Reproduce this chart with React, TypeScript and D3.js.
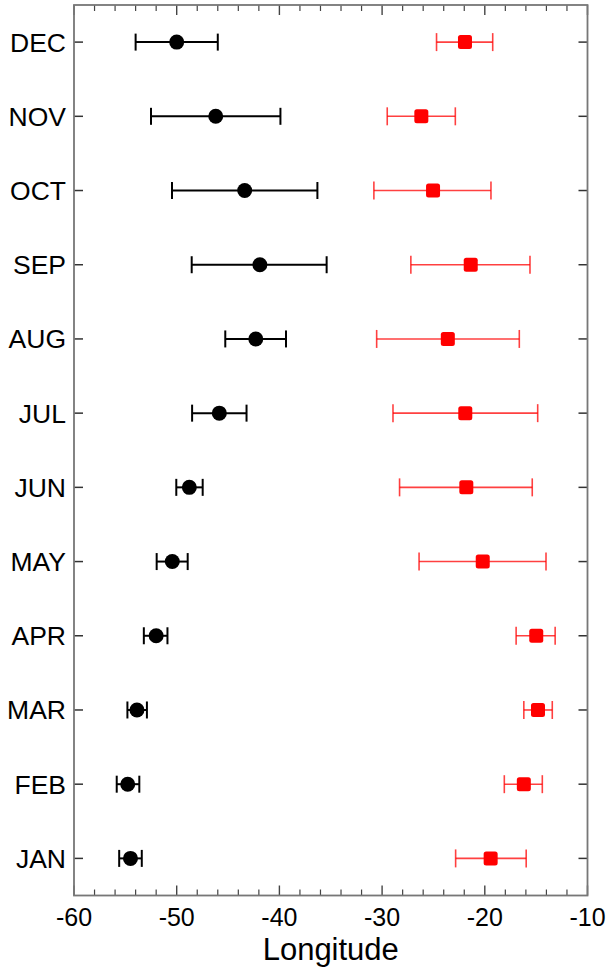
import React from "react";
import * as d3 from "d3";

// Monthly mean longitude with error ranges for two groups
const months = ["DEC", "NOV", "OCT", "SEP", "AUG", "JUL", "JUN", "MAY", "APR", "MAR", "FEB", "JAN"];

// Black series (western group), order matches `months`
const westMean = [-50.0, -46.2, -43.38, -41.9, -42.3, -45.85, -48.77, -50.43, -52.0, -53.87, -54.77, -54.5];
const westLow = [-54.0, -52.5, -50.46, -48.54, -45.27, -48.5, -50.04, -51.95, -53.2, -54.8, -55.84, -55.6];
const westHigh = [-46.0, -39.9, -36.3, -35.4, -39.36, -43.2, -47.47, -48.93, -50.9, -52.9, -53.64, -53.4];

// Red series (eastern group)
const eastMean = [-21.93, -26.18, -25.04, -21.37, -23.6, -21.9, -21.8, -20.2, -14.99, -14.82, -16.2, -19.43];
const eastLow = [-24.7, -29.5, -30.8, -27.2, -30.53, -28.94, -28.3, -26.4, -16.95, -16.2, -18.1, -22.84];
const eastHigh = [-19.23, -22.87, -19.4, -15.6, -16.64, -14.85, -15.38, -14.04, -13.15, -13.43, -14.4, -15.97];

const xMajorTicks = [-60, -50, -40, -30, -20, -10];
const xMinorTicks = d3.range(-58, -10, 2).filter((v) => v % 10 !== 0);
const xTitle = "Longitude";

const W = 606;
const H = 971;
const left = 74;
const right = 587.5;
const top = 5;
const bottom = 895.5;
const FONT = "Arial, 'Liberation Sans', sans-serif";

export default function App() {
  const x = d3.scaleLinear().domain([-60, -10]).range([left, right]);
  const y = d3.scalePoint<string>().domain(months).range([top, bottom]).padding(0.5);

  const blackCap = 8.5;
  const redCap = 9;

  return (
    <svg
      width={W}
      height={H}
      style={{ position: "absolute", left: 0, top: 0, background: "#fff" }}
      fontFamily={FONT}
    >
      {/* minor x ticks, top and bottom, pointing inward */}
      {xMinorTicks.map((v) => (
        <g key={"mn" + v} stroke="#444" strokeWidth={1.2}>
          <line x1={x(v)} x2={x(v)} y1={top} y2={top + 6} />
          <line x1={x(v)} x2={x(v)} y1={bottom} y2={bottom - 6} />
        </g>
      ))}
      {xMajorTicks.map((v) => (
        <g key={"mj" + v}>
          <line x1={x(v)} x2={x(v)} y1={top} y2={top + 10} stroke="#444" strokeWidth={1.4} />
          <line x1={x(v)} x2={x(v)} y1={bottom} y2={bottom - 10} stroke="#444" strokeWidth={1.4} />
          <text x={x(v)} y={925.5} textAnchor="middle" fontSize={25} fill="#000">
            {v}
          </text>
        </g>
      ))}
      {/* category ticks and labels */}
      {months.map((m) => (
        <g key={"yt" + m}>
          <line x1={left} x2={left + 9} y1={y(m)} y2={y(m)} stroke="#333" strokeWidth={1.5} />
          <line x1={right} x2={right - 9} y1={y(m)} y2={y(m)} stroke="#333" strokeWidth={1.5} />
          <text x={66} y={y(m)! + 9.5} textAnchor="end" fontSize={26.5} fill="#000">
            {m}
          </text>
        </g>
      ))}
      {/* frame */}
      <rect
        x={left}
        y={top}
        width={right - left}
        height={bottom - top}
        fill="none"
        stroke="#777"
        strokeWidth={1.8}
      />
      {/* eastern series: red error bars with square markers */}
      {months.map((m, i) => {
        const cy = y(m)!;
        return (
          <g key={"e" + m}>
            <g stroke="#ff0000" strokeOpacity={0.75} strokeWidth={1.6}>
              <line x1={x(eastLow[i])} x2={x(eastHigh[i])} y1={cy} y2={cy} />
              <line x1={x(eastLow[i])} x2={x(eastLow[i])} y1={cy - redCap} y2={cy + redCap} />
              <line x1={x(eastHigh[i])} x2={x(eastHigh[i])} y1={cy - redCap} y2={cy + redCap} />
            </g>
            <rect
              x={x(eastMean[i]) - 7}
              y={cy - 7}
              width={14}
              height={14}
              rx={2.5}
              fill="#ff0000"
            />
          </g>
        );
      })}
      {/* western series: black error bars with circle markers */}
      {months.map((m, i) => {
        const cy = y(m)!;
        return (
          <g key={"w" + m}>
            <g stroke="#000" strokeWidth={2}>
              <line x1={x(westLow[i])} x2={x(westHigh[i])} y1={cy} y2={cy} />
              <line x1={x(westLow[i])} x2={x(westLow[i])} y1={cy - blackCap} y2={cy + blackCap} />
              <line x1={x(westHigh[i])} x2={x(westHigh[i])} y1={cy - blackCap} y2={cy + blackCap} />
            </g>
            <circle cx={x(westMean[i])} cy={cy} r={7.5} fill="#000" />
          </g>
        );
      })}
      <text x={(left + right) / 2} y={960} textAnchor="middle" fontSize={31} fill="#000">
        {xTitle}
      </text>
    </svg>
  );
}
